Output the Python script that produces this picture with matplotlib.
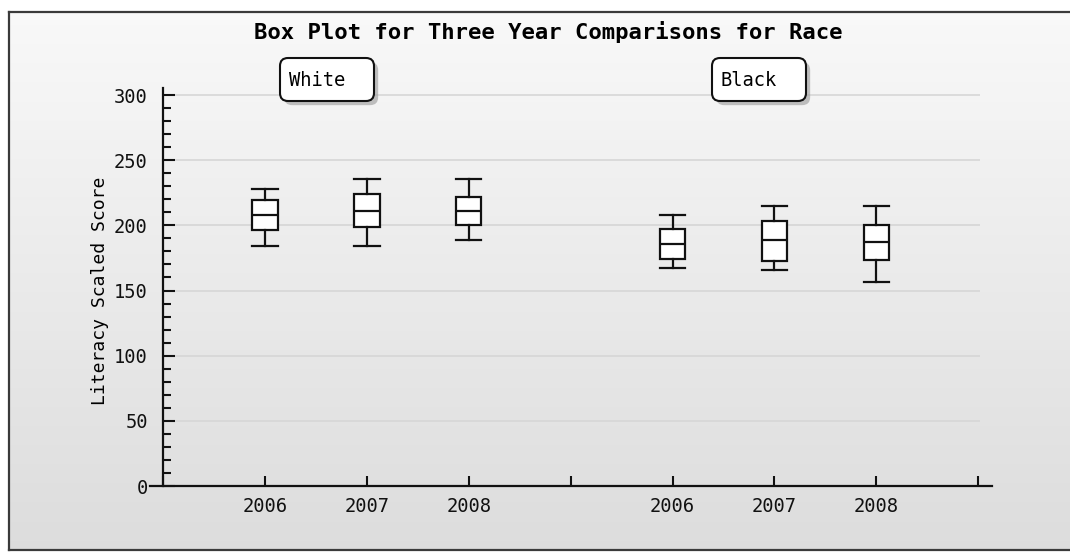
import numpy as np
import matplotlib
matplotlib.use("Agg")
import matplotlib.pyplot as plt
from matplotlib.patches import FancyBboxPatch
from matplotlib.lines import Line2D
from matplotlib.transforms import IdentityTransform
import matplotlib.patheffects as pe

# ---- data ----
groups = ["White", "Black"]
years = ["2006", "2007", "2008"]
whislo = [184, 184.5, 189, 167, 165.5, 156.5]
q1     = [196.5, 199, 200, 174, 172.7, 173.7]
med    = [208, 211, 211, 186, 188.5, 187]
q3     = [219.5, 224, 222, 197, 203, 200]
whishi = [228, 235.4, 235.4, 208, 215, 215]
positions = [1, 2, 3, 5, 6, 7]
tick_positions = [0, 1, 2, 3, 4, 5, 6, 7, 8]
tick_labels = ["", "2006", "2007", "2008", "", "2006", "2007", "2008", ""]
grid_values = [50, 100, 150, 200, 250, 300]

W, H = 1070, 552
fig = plt.figure(figsize=(W / 100, H / 100), dpi=100, facecolor="white")

# gradient background inside frame
bg = fig.add_axes([9 / W, 2 / H, 1 - 9 / W, 538 / H])
grad = np.linspace(0, 1, 256).reshape(-1, 1)
top = np.array([0.975, 0.975, 0.975])
bot = np.array([0.865, 0.865, 0.865])
img = top + (bot - top) * grad[:, :, None]
bg.imshow(img, aspect="auto", extent=[0, 1, 0, 1], origin="upper")
bg.set_axis_off()

# frame lines (left, top, bottom)
fr = dict(color="#3a3a3a", lw=1.6, transform=IdentityTransform())
fig.add_artist(Line2D([9, 9], [2, 540], **fr))
fig.add_artist(Line2D([9, 1075], [540, 540], **fr))
fig.add_artist(Line2D([9, 1075], [2, 2], **fr))

ax = fig.add_axes([150 / W, 66 / H, 842 / W, 398 / H])
ax.set_facecolor("none")
ax.set_xlim(-0.128, 8.135)
ax.set_ylim(0, 305.4)

# horizontal grid lines
ax.hlines(grid_values, 0, 8.02, colors="#d6d6d6", linewidth=1.2, zorder=0)

stats = []
for i in range(len(positions)):
    stats.append(dict(whislo=whislo[i], q1=q1[i], med=med[i], q3=q3[i],
                      whishi=whishi[i], fliers=[]))
lc = "#111111"
ax.bxp(stats, positions=positions, widths=0.25, capwidths=0.25,
       patch_artist=True, showfliers=False,
       boxprops=dict(facecolor="white", edgecolor=lc, linewidth=1.6),
       medianprops=dict(color=lc, linewidth=1.6),
       whiskerprops=dict(color=lc, linewidth=1.6),
       capprops=dict(color=lc, linewidth=1.6), zorder=3)

for sp in ["top", "right"]:
    ax.spines[sp].set_visible(False)
ax.spines["left"].set_position(("data", 0))
ax.spines["left"].set_linewidth(1.6)
ax.spines["bottom"].set_linewidth(1.6)
ax.spines["left"].set_color(lc)
ax.spines["bottom"].set_color(lc)

ax.set_xticks(tick_positions)
ax.set_xticklabels(tick_labels, fontfamily="DejaVu Sans Mono", fontsize=13.5)
ax.set_yticks(np.arange(0, 301, 50))
ax.set_yticks(np.arange(0, 301, 10), minor=True)
ax.set_yticklabels([str(v) for v in range(0, 301, 50)],
                   fontfamily="DejaVu Sans Mono", fontsize=13.5)
ax.tick_params(axis="x", direction="in", length=7, width=1.5, pad=8, colors=lc)
ax.tick_params(axis="y", which="major", direction="in", length=8.6, width=1.5, pad=11, colors=lc)
ax.tick_params(axis="y", which="minor", direction="in", length=5.8, width=1.5, colors=lc)
ax.set_axisbelow(True)

fig.text(548 / W, (H - 32) / H, "Box Plot for Three Year Comparisons for Race",
         ha="center", va="center", fontfamily="DejaVu Sans Mono",
         fontweight="bold", fontsize=16)
fig.text(100 / W, (H - 291) / H, "Literacy Scaled Score", rotation=90,
         ha="center", va="center", fontfamily="DejaVu Sans Mono", fontsize=13)

# group label boxes
for name, x0 in zip(groups, [280, 712]):
    box = FancyBboxPatch((x0, H - 101), 94, 43,
                         boxstyle="round,pad=0,rounding_size=8",
                         transform=IdentityTransform(), facecolor="white",
                         edgecolor="#111111", linewidth=1.5,
                         path_effects=[pe.SimplePatchShadow(offset=(3, -3), shadow_rgbFace="#999999", alpha=0.6),
                                       pe.Normal()])
    fig.add_artist(box)
    fig.text((x0 + 9) / W, (H - 80) / H, name, ha="left", va="center",
             fontfamily="DejaVu Sans Mono", fontsize=13.5)

fig.savefig("out.png", dpi=100)
